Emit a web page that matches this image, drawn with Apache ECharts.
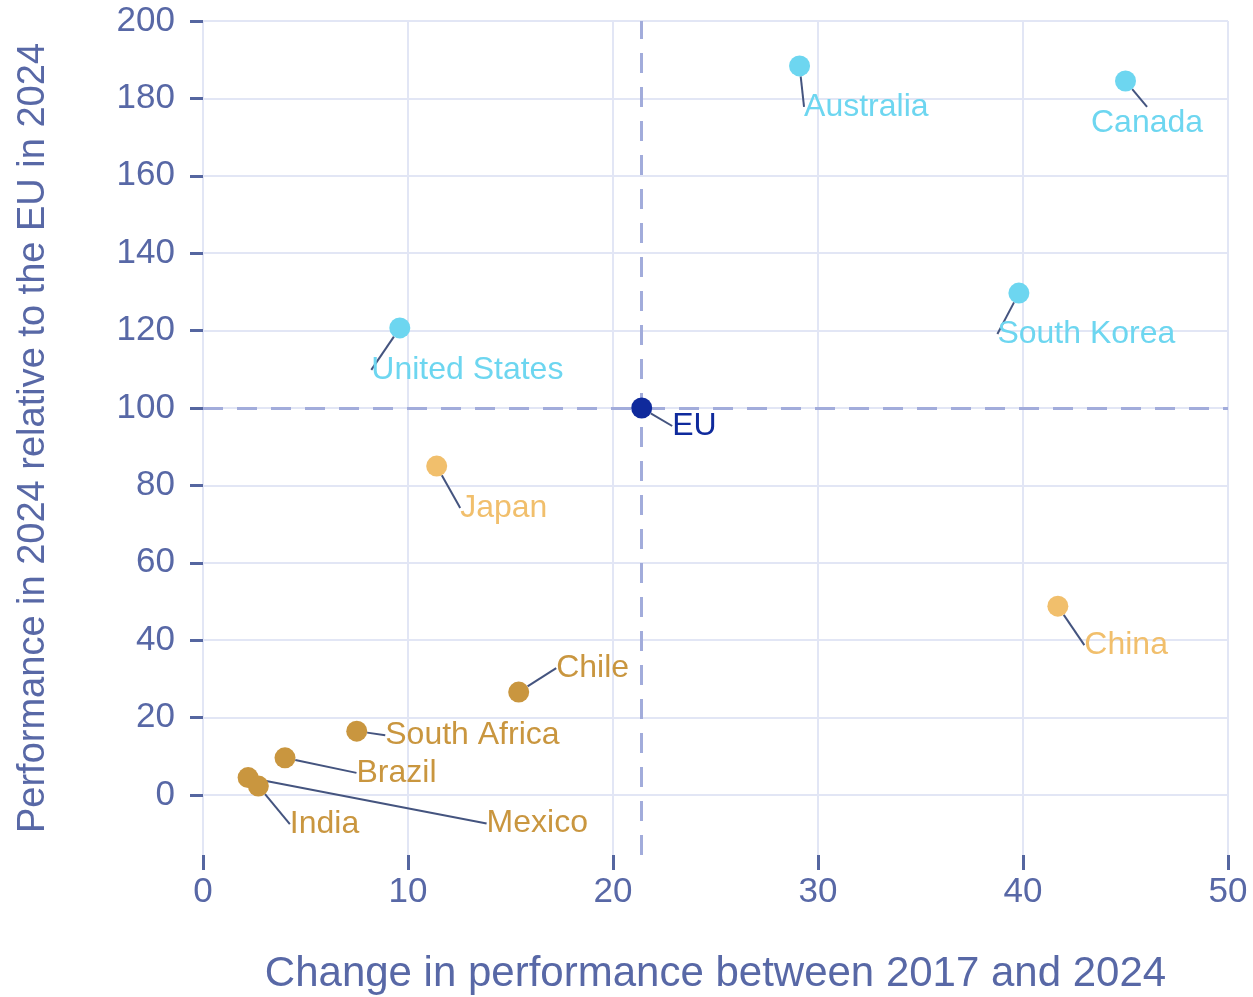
<!DOCTYPE html>
<html>
<head>
<meta charset="utf-8">
<title>Performance vs change</title>
<script src="https://cdn.jsdelivr.net/npm/echarts@6/dist/echarts.min.js"></script>
<style>
  html, body { margin: 0; padding: 0; background: #fff; }
  #chart { width: 1253px; height: 997px; }
</style>
</head>
<body>
<div id="chart"></div>
<script>
// data
const countries = ['Australia', 'Canada', 'South Korea', 'United States', 'EU', 'Japan', 'China', 'Chile', 'South Africa', 'Brazil', 'Mexico', 'India']
const change = [29.1, 45.0, 39.8, 9.6, 21.4, 11.4, 41.7, 15.4, 7.5, 4.0, 2.2, 2.7]
const performance = [188.4, 184.5, 129.7, 120.7, 100.0, 85.0, 48.8, 26.6, 16.5, 9.6, 4.5, 2.3]
const groups = ['high', 'high', 'high', 'high', 'eu', 'mid', 'mid', 'low', 'low', 'low', 'low', 'low']
const yTicks = [0, 20, 40, 60, 80, 100, 120, 140, 160, 180, 200]
const euIndex = countries.indexOf('EU')

// styles
const groupColors = {
  high: '#6dd6f0',
  eu: '#0f2a9c',
  mid: '#f1bf6c',
  low: '#c9963f',
}
// label offsets from the default right-hand position
const labelOffsets = {
  'Australia': [-12, 41],
  'Canada': [-51, 42],
  'South Korea': [-38, 41],
  'United States': [-45, 42],
  'EU': [14, 18],
  'Japan': [7, 42],
  'China': [10, 39],
  'Chile': [21, -24],
  'South Africa': [12, 4],
  'Brazil': [55, 15],
  'Mexico': [222, 46],
  'India': [15, 38],
}

const font = '"Liberation Sans", Arial, sans-serif'
const axisText = '#5868a6'

const chart = echarts.init(document.getElementById('chart'))

chart.setOption({
  animation: false,
  grid: { left: 203, right: 25, top: 21, bottom: 142, outerBoundsMode: 'none' },
  xAxis: {
    type: 'value',
    min: 0,
    max: 50,
    interval: 10,
    name: 'Change in performance between 2017 and 2024',
    nameLocation: 'middle',
    nameGap: 98,
    nameTextStyle: { fontFamily: font, fontSize: 42, color: axisText, verticalAlign: 'top' },
    axisLine: { show: false, onZero: false },
    axisTick: { show: true, length: 15, lineStyle: { color: '#5566a0', width: 3 } },
    axisLabel: { fontFamily: font, fontSize: 35, color: axisText, margin: 20 },
    splitLine: { show: true, lineStyle: { color: '#e2e6f5', width: 2 } },
  },
  yAxis: {
    type: 'value',
    min: -15.5,
    max: 200,
    name: 'Performance in 2024 relative to the EU in 2024',
    nameLocation: 'middle',
    nameGap: 150,
    nameTextStyle: { fontFamily: font, fontSize: 38, color: axisText },
    axisLine: { show: false },
    axisTick: { show: true, length: 13, customValues: yTicks, lineStyle: { color: '#5566a0', width: 3 } },
    axisLabel: { fontFamily: font, fontSize: 35, color: axisText, margin: 28, customValues: yTicks },
    splitLine: { show: true, lineStyle: { color: '#e2e6f5', width: 2 } },
  },
  series: [
    {
      // EU reference lines
      type: 'scatter',
      data: [],
      z: 1,
      markLine: {
        silent: true,
        z: 1,
        symbol: 'none',
        label: { show: false },
        lineStyle: { color: '#a2acdb', width: 3, type: [20, 14] },
        data: [
          { xAxis: change[euIndex] },
          { yAxis: performance[euIndex] },
        ],
      },
    },
    {
      type: 'scatter',
      symbolSize: 21,
      z: 3,
      itemStyle: { opacity: 1 },
      data: countries.map((name, i) => ({
        name,
        value: [change[i], performance[i]],
        itemStyle: { color: groupColors[groups[i]] },
        label: { color: groupColors[groups[i]] },
      })),
      label: {
        show: true,
        position: 'right',
        distance: 0,
        formatter: '{b}',
        fontFamily: font,
        fontSize: 32,
        padding: [6, 6],
      },
      labelLine: {
        show: true,
        lineStyle: { color: '#44547f', width: 2 },
      },
      labelLayout: (params) => {
        const off = labelOffsets[countries[params.dataIndex]]
        return { dx: off[0], dy: off[1] }
      },
    },
  ],
})
</script>
</body>
</html>
